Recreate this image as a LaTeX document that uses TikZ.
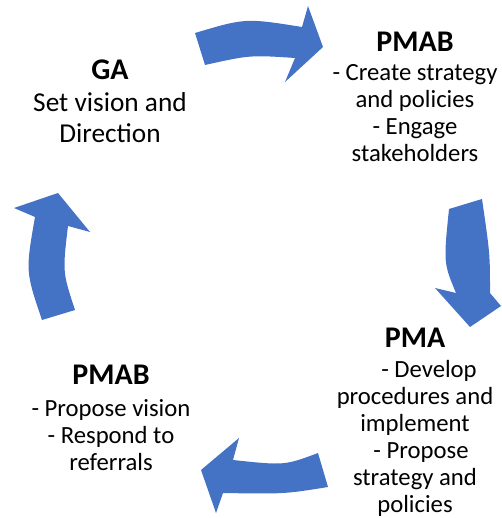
\documentclass[tikz,border=0pt]{standalone}
\usepackage{fontspec}
\setmainfont{Carlito}
\definecolor{arrowblue}{HTML}{4472C4}
\newcommand{\headtext}[1]{\textbf{\fontsize{30}{27}\selectfont #1}}
\begin{document}
\begin{tikzpicture}[x=1pt,y=-1pt,
  cyclearrow/.style={fill=arrowblue,draw=none},
  label/.style={align=center,inner sep=0pt,anchor=base,font=\fontsize{24.7}{27}\selectfont}]
\useasboundingbox (0,0) rectangle (501,518);
% top arrow
\fill[cyclearrow] (195,33) .. controls (245.5,18) .. (302,27) -- (308,6) -- (323,47) -- (285,82) -- (295,58)
  .. controls (250,55) .. (205,65) -- cycle;
% right arrow
\fill[cyclearrow] (449,209) -- (482,199) .. controls (490,254) .. (490,293) -- (501,306) -- (470,327) -- (435,288) -- (456,293)
  .. controls (443.5,263) .. (449,209) -- cycle;
% bottom arrow
\fill[cyclearrow] (318,453) .. controls (284.5,465.5) .. (233,460) -- (239,438) -- (201,470) -- (216,513) -- (223,493)
  .. controls (284.5,494) .. (328,487) -- cycle;
% left arrow
\fill[cyclearrow] (42,320) -- (75,310) .. controls (62.5,272) .. (68,226) -- (90,232) -- (58,193) -- (14,208) -- (35,217)
  .. controls (25.5,271.5) .. (42,320) -- cycle;
% texts
\node[label,font=\fontsize{27.3}{31}\selectfont] (ga) at (110,143)
  {\headtext{GA}\\[1pt]Set vision and\\Direction};
\node[label] (pmabtop) at (415,162)
  {\headtext{PMAB}\\[2pt]- Create strategy\\and policies\\- Engage\\stakeholders};
\node[label] (pma) at (415,512)
  {\headtext{PMA}\\[3pt]\hspace{28pt}- Develop\\procedures and\\implement\\\hspace{12pt}- Propose\\strategy and\\policies};
\node[label] (pmabbot) at (111,470)
  {\headtext{PMAB}\\[5pt]- Propose vision\\- Respond to\\referrals};
\end{tikzpicture}
\end{document}
